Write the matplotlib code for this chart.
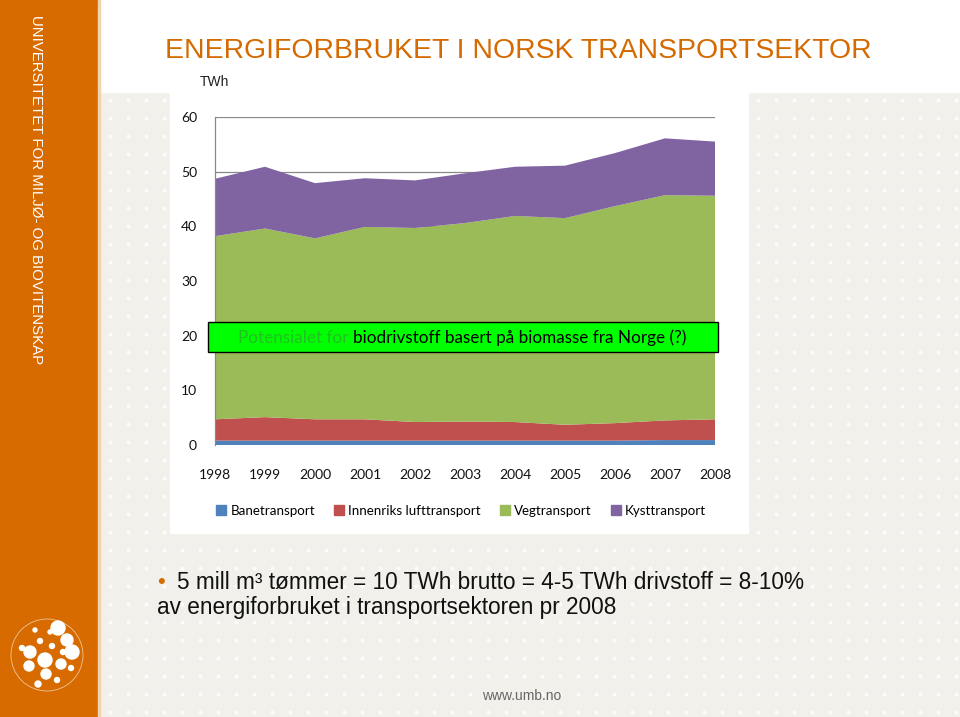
import numpy as np
import matplotlib
matplotlib.use('Agg')
import matplotlib.pyplot as plt
from matplotlib.patches import Rectangle, Circle
from matplotlib.lines import Line2D

# Data (TWh)
years = [1998, 1999, 2000, 2001, 2002, 2003, 2004, 2005, 2006, 2007, 2008]
banetransport = [0.8, 0.8, 0.8, 0.8, 0.8, 0.8, 0.8, 0.8, 0.8, 0.9, 0.9]
innenriks_luft = [3.9, 4.3, 3.9, 3.9, 3.4, 3.5, 3.4, 2.9, 3.2, 3.6, 3.8]
vegtransport = [33.5, 34.5, 33.1, 35.2, 35.5, 36.3, 37.7, 37.8, 39.7, 41.2, 40.9]
kysttransport = [10.5, 11.3, 10.1, 8.9, 8.7, 9.1, 9.0, 9.6, 9.7, 10.4, 9.9]

series_names = ['Banetransport', 'Innenriks lufttransport', 'Vegtransport', 'Kysttransport']
series_colors = ['#4F81BD', '#C0504D', '#9BBB59', '#8064A2']
y_ticks = [0, 10, 20, 30, 40, 50, 60]

W, H = 960, 717
fig = plt.figure(figsize=(W / 100, H / 100), dpi=100)
fig.patch.set_facecolor('#F1F0EB')

def px(x, y):
    # pixel coords (from top-left) -> figure fraction
    return x / W, 1 - y / H

# background decoration
bg = fig.add_axes([0, 0, 1, 1], zorder=-10)
bg.set_xlim(0, W)
bg.set_ylim(H, 0)
bg.axis('off')
bg.add_patch(Rectangle((0, 0), W, H, color='#F1F0EB', zorder=0))
# dotted pattern
gx, gy = np.meshgrid(np.arange(110, W, 18), np.arange(100, H, 18))
bg.scatter(gx.ravel(), gy.ravel(), s=9, color='white', alpha=0.8, lw=0, zorder=1)
bg.add_patch(Rectangle((98, 0), W - 98, 92, color='white', zorder=2))
bg.add_patch(Rectangle((170, 60), 578, 473, color='white', zorder=2))
# orange side band
bg.add_patch(Rectangle((0, 0), 98, H, color='#D86B00', zorder=3))
bg.add_patch(Rectangle((98, 0), 2, H, color='#F2D3B0', zorder=3))
bg.text(36, 15, 'UNIVERSITETET FOR MILJØ- OG BIOVITENSKAP', rotation=270,
        ha='center', va='top', color='white', fontsize=10.8,
        family='Liberation Sans', zorder=4)
# logo
logo_dots = [(58, 628, 7), (67, 640, 6), (72, 652, 7), (30, 652, 6), (45, 660, 7),
             (29, 666, 5), (46, 674, 5), (61, 664, 5), (40, 641, 2.5), (52, 646, 2.5),
             (63, 652, 2.5), (35, 630, 2), (50, 632, 2), (57, 680, 2.5), (71, 668, 2.5),
             (22, 648, 2.5), (38, 684, 3)]
for cx, cy, r in logo_dots:
    bg.add_patch(Circle((cx, cy), r, color='white', zorder=4))
bg.add_patch(Circle((47, 655), 36, fill=False, ec='white', lw=0.6, alpha=0.6, zorder=4))

# title
fig.text(*px(165, 58), 'ENERGIFORBRUKET I NORSK TRANSPORTSEKTOR', color='#D46A00',
         fontsize=20.4, ha='left', va='baseline', family='Liberation Sans')
fig.text(*px(200, 82), 'TWh', fontsize=10, ha='left', va='center',
         family='Liberation Sans', color='#222222')

# chart
plt.rcParams['font.family'] = ['Lato', 'DejaVu Sans']
x0, y0 = px(215, 445)
x1, y1 = px(715, 117)
ax = fig.add_axes([x0, y0, x1 - x0, y1 - y0])
ax.set_facecolor('none')
ax.stackplot(years, banetransport, innenriks_luft, vegtransport, kysttransport,
             colors=series_colors, labels=series_names, lw=0, zorder=2)
ax.set_xlim(years[0], years[-1])
ax.set_ylim(0, 60)
ax.set_yticks(y_ticks)
ax.set_xticks(years)
ax.set_xticklabels([str(y) for y in years])
ax.tick_params(length=0, labelsize=10, colors='#111111')
ax.tick_params(axis='y', pad=13)
ax.tick_params(axis='x', pad=17)
ax.yaxis.grid(True, color='#888888', lw=0.9, zorder=1)
ax.set_axisbelow(True)
for s in ['top', 'right', 'bottom']:
    ax.spines[s].set_visible(False)
ax.spines['left'].set_color('#888888')
ax.spines['left'].set_linewidth(0.9)

# annotation box
bx0, by0 = px(208, 352)
bx1, by1 = px(718, 322)
fig.patches.append(Rectangle((bx0, by0), bx1 - bx0, by1 - by0, transform=fig.transFigure,
                             facecolor='#00FF00', edgecolor='black', lw=1.0, zorder=5))
t1 = fig.text(*px(238, 338), 'Potensialet for ', color='#22C022', fontsize=12.3,
              ha='left', va='center', zorder=6)
# place second part right after the first
fig.canvas.draw()
bb = t1.get_window_extent()
fig.text(bb.x1 / W, bb.y0 / H, 'biodrivstoff basert på biomasse fra Norge (?)',
         color='black', fontsize=12.3, ha='left', va='bottom', zorder=6)

# legend
handles = [Line2D([], [], marker='s', ls='none', markersize=7, color=c) for c in series_colors]
fig.legend(handles, series_names, loc='center', bbox_to_anchor=px(461, 511), ncol=4,
           frameon=False, fontsize=9.6, handlelength=0.8, handletextpad=0.3,
           columnspacing=1.4)

# bullet text
fig.text(*px(157, 588), '•', color='#D86B00', fontsize=16, ha='left', va='baseline',
         family='Liberation Sans')
fig.text(*px(177, 589), '5 mill m³ tømmer = 10 TWh brutto = 4-5 TWh drivstoff = 8-10%',
         fontsize=16.3, ha='left', va='baseline', family='Liberation Sans', color='#111111')
fig.text(*px(157, 614), 'av energiforbruket i transportsektoren pr 2008',
         fontsize=16.3, ha='left', va='baseline', family='Liberation Sans', color='#111111')

fig.text(*px(482, 696), 'www.umb.no', fontsize=10, ha='left', va='center',
         family='Liberation Sans', color='#666666')

fig.savefig('out.png', dpi=100, facecolor=fig.get_facecolor())
